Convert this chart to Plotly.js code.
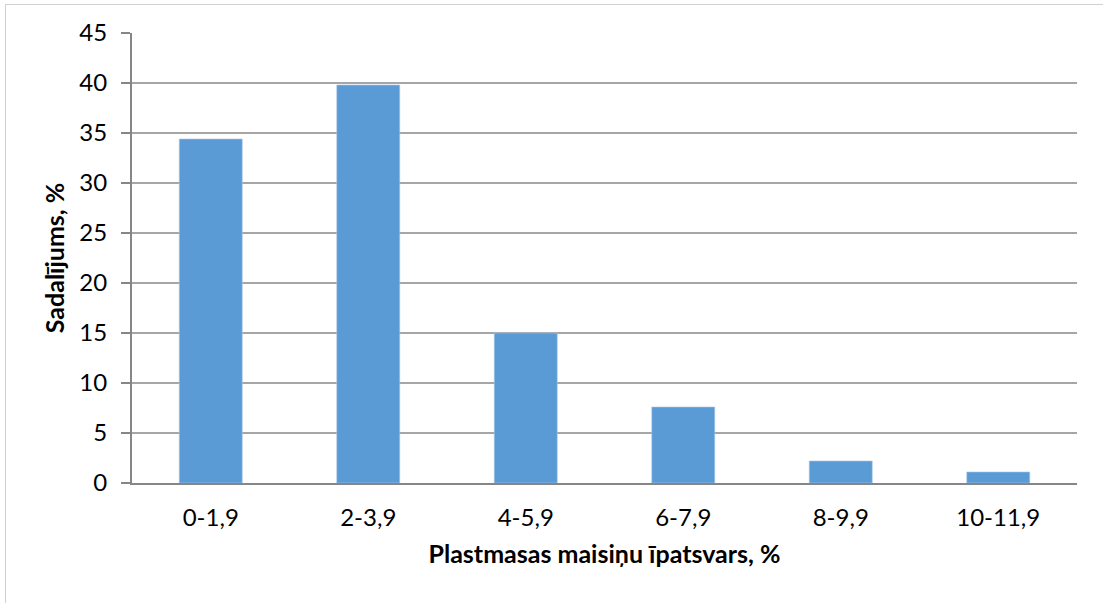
<!DOCTYPE html>
<html><head><meta charset="utf-8">
<script src="https://cdn.plot.ly/plotly-3.0.1.min.js"></script>
<style>
html,body{margin:0;padding:0;background:#fff;}
#frame{position:absolute;left:5px;top:4px;width:1098px;height:599px;border-left:1px solid #d0d0d0;border-top:1px solid #d0d0d0;}
#chart{position:absolute;left:0;top:0;width:1103px;height:603px;}
</style>
</head><body>
<div id="frame"></div>
<div id="chart"></div>
<script>
var categories = ["0-1,9","2-3,9","4-5,9","6-7,9","8-9,9","10-11,9"];
var values = [34.4, 39.8, 15.0, 7.6, 2.2, 1.1];
var yTicks = [0,5,10,15,20,25,30,35,40,45];
var xTitle = "Plastmasas maisiņu īpatsvars, %";
var yTitle = "Sadalījums, %";

var fontFam = "Lato, 'Open Sans', sans-serif";
var trace = {
  type: "bar", x: categories, y: values,
  marker: {color: "#5b9bd5", line: {color: "#a9c8ea", width: 0.6}},
  width: 0.4, hoverinfo: "skip"
};
var layout = {
  width: 1103, height: 603,
  margin: {l: 132, r: 26, t: 33, b: 120},
  paper_bgcolor: "rgba(0,0,0,0)", plot_bgcolor: "rgba(0,0,0,0)",
  showlegend: false,
  font: {family: fontFam, size: 24, color: "#000"},
  xaxis: {
    type: "category", showgrid: false, showline: true, linecolor: "#868686", linewidth: 2,
    ticks: "", ticklabelstandoff: 12,
    tickfont: {family: fontFam, size: 24, color: "#000"},
    title: {text: xTitle, font: {family: fontFam, size: 25, color: "#000", weight: "bold"}, standoff: 16}
  },
  yaxis: {
    range: [0, 45], tickvals: yTicks, ticktext: yTicks.map(String),
    showgrid: true, gridcolor: "#a6a6a6", gridwidth: 1.3,
    showline: true, linecolor: "#868686", linewidth: 2,
    ticks: "outside", ticklen: 9, tickcolor: "#868686", tickwidth: 1.3,
    ticklabelstandoff: 9, zeroline: false,
    tickfont: {family: fontFam, size: 24, color: "#000"},
    title: {text: yTitle, font: {family: fontFam, size: 25, color: "#000", weight: "bold"}, standoff: 8}
  }
};
Plotly.newPlot("chart", [trace], layout, {staticPlot: true, displayModeBar: false});
</script>
</body></html>
